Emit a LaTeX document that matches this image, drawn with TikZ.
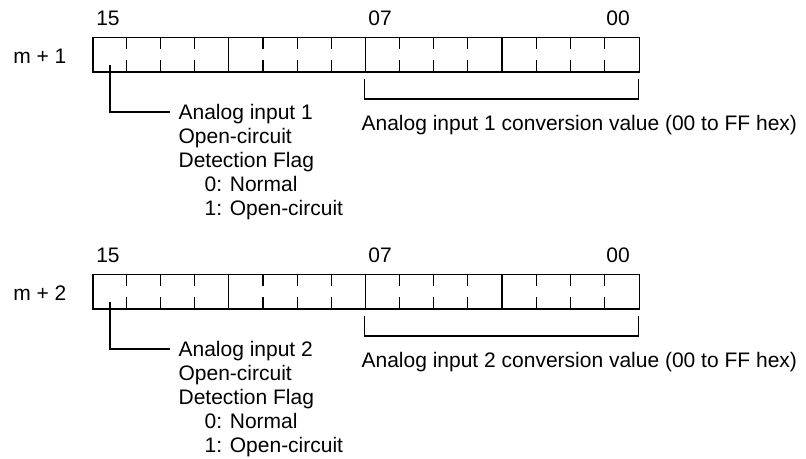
\documentclass[tikz,border=0pt]{standalone}
\usepackage{fontspec}
\setmainfont{Liberation Sans}
\begin{document}
\begin{tikzpicture}[x=1pt,y=-1pt,line width=1.2pt,
  txt/.style={font=\fontsize{21}{24}\selectfont, inner sep=0pt, anchor=base west},
  bitlbl/.style={font=\fontsize{21}{24}\selectfont, inner sep=0pt, anchor=base},
  regbox/.style={draw, minimum width=546.2pt, minimum height=34.6pt, inner sep=0pt, anchor=north west}]
\useasboundingbox (0,0) rectangle (806,458);
\foreach \r/\dy in {1/0,2/237}{
\begin{scope}[shift={(0,\dy)}]
  \node[regbox] (box\r) at (92.3,36.7) {};
  \foreach \i in {1,2,3,5,6,7,9,10,11,13,14,15}{
    \draw (92.3+\i*34.14,36.7) -- (92.3+\i*34.14,49.2)
          (92.3+\i*34.14,71.3) -- (92.3+\i*34.14,60.0);
  }
  \foreach \i in {4,8,12}{
    \draw (92.3+\i*34.14,36.7) -- (92.3+\i*34.14,71.3);
  }
  \node[bitlbl] (b15\r) at (108,25) {15};
  \node[bitlbl] (b07\r) at (380,25) {07};
  \node[bitlbl] (b00\r) at (618,25) {00};
  \node[txt] (m\r) at (12.7,63) {m + \r};
  % leader to flag text
  \coordinate (ls\r) at (110,65);
  \coordinate (le\r) at (170,112);
  \draw (ls\r) |- (le\r);
  \node[txt] (a\r1) at (178,119.5) {Analog input \r};
  \node[txt] (a\r2) at (178,143.5) {Open-circuit};
  \node[txt] (a\r3) at (178,167.5) {Detection Flag};
  \node[txt] (a\r4) at (204,191.5) {0: Normal};
  \node[txt] (a\r5) at (204,215.5) {1: Open-circuit};
  % bracket
  \coordinate (bl\r) at (364.5,79);
  \coordinate (br\r) at (638.5,79);
  \draw (bl\r) -- (364.5,99) -- (638.5,99) -- (br\r);
  \node[txt] (cv\r) at (361,130.5) {Analog input \r\ conversion value (00 to FF hex)};
\end{scope}
}
\end{tikzpicture}
\end{document}
